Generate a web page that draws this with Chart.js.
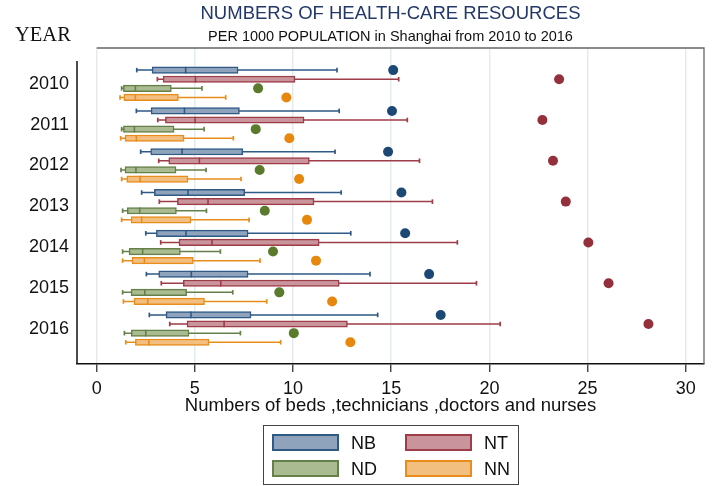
<!DOCTYPE html>
<html>
<head>
<meta charset="utf-8">
<script src="https://cdn.jsdelivr.net/npm/chart.js@4.4.0/dist/chart.umd.min.js"></script>
<style>
  body { margin: 0; background: #fff; }
  #wrap { position: relative; width: 724px; height: 486px; }
  #legend {
    position: absolute; left: 263px; top: 425px; width: 256px; height: 60px;
    border: 1.5px solid #444; box-sizing: border-box;
    font: 18px "Liberation Sans", Arial, Helvetica, sans-serif; color: #111;
  }
  #legend .sw { position: absolute; width: 67px; height: 17px; box-sizing: border-box; border: 2px solid; }
  #legend .lb { position: absolute; line-height: 18px; }
</style>
</head>
<body>
<div id="wrap">
  <canvas id="chart" width="724" height="486"></canvas>
  <div id="legend"></div>
</div>
<script>
// --- data ---
const years = ['2010', '2011', '2012', '2013', '2014', '2015', '2016'];
const seriesNames = ['NB', 'NT', 'ND', 'NN'];
const xTicks = [0, 5, 10, 15, 20, 25, 30];

const nbMin = [2.04, 2.02, 2.24, 2.29, 2.50, 2.53, 2.68];
const nbQ1  = [2.82, 2.77, 2.75, 2.94, 3.04, 3.16, 3.53];
const nbMed = [4.53, 4.47, 4.35, 4.65, 4.55, 4.82, 4.80];
const nbQ3  = [7.20, 7.27, 7.44, 7.54, 7.71, 7.71, 7.86];
const nbMax = [12.24, 12.35, 12.14, 12.45, 12.94, 13.92, 14.31];
const nbOut = [15.10, 15.04, 14.84, 15.52, 15.71, 16.93, 17.52];

const ntMin = [3.09, 3.11, 3.16, 3.19, 3.26, 3.29, 3.72];
const ntQ1  = [3.38, 3.50, 3.67, 4.11, 4.19, 4.41, 4.60];
const ntMed = [5.03, 5.01, 5.23, 5.67, 5.87, 6.32, 6.49];
const ntQ3  = [10.10, 10.56, 10.83, 11.07, 11.33, 12.35, 12.77];
const ntMax = [15.38, 15.82, 16.44, 17.10, 18.37, 19.34, 20.55];
const ntOut = [23.55, 22.70, 23.24, 23.89, 25.04, 26.07, 28.10];

const ndMin = [1.27, 1.27, 1.24, 1.32, 1.32, 1.32, 1.41];
const ndQ1  = [1.36, 1.36, 1.44, 1.56, 1.65, 1.75, 1.76];
const ndMed = [1.97, 1.92, 2.00, 2.19, 2.34, 2.45, 2.50];
const ndQ3  = [3.80, 3.94, 4.04, 4.06, 4.26, 4.58, 4.70];
const ndMax = [5.36, 5.47, 5.57, 5.59, 6.30, 6.93, 7.32];
const ndOut = [8.22, 8.10, 8.30, 8.56, 8.98, 9.30, 10.04];

const nnMin = [1.19, 1.22, 1.27, 1.27, 1.32, 1.36, 1.48];
const nnQ1  = [1.38, 1.44, 1.53, 1.75, 1.80, 1.90, 1.97];
const nnMed = [1.97, 2.02, 2.21, 2.29, 2.43, 2.60, 2.66];
const nnQ3  = [4.16, 4.45, 4.65, 4.80, 4.92, 5.49, 5.72];
const nnMax = [6.57, 6.96, 7.35, 7.76, 8.32, 8.66, 9.37];
const nnOut = [9.66, 9.81, 10.31, 10.71, 11.17, 11.99, 12.92];

const titleText = 'NUMBERS OF HEALTH-CARE RESOURCES';
const subtitleText = 'PER 1000 POPULATION in Shanghai from 2010 to 2016';
const xTitle = 'Numbers of beds ,technicians ,doctors and nurses';

// --- styling ---
const FONT = '"Liberation Sans", Arial, Helvetica, sans-serif';
const series = [
  { name: 'NB', min: nbMin, q1: nbQ1, med: nbMed, q3: nbQ3, max: nbMax, out: nbOut, off: -0.335, line: '#2f5a86', fill: '#8fa4bc', dot: '#1b4874' },
  { name: 'NT', min: ntMin, q1: ntQ1, med: ntMed, q3: ntQ3, max: ntMax, out: ntOut, off: -0.112, line: '#9e3c48', fill: '#c9949b', dot: '#94303b' },
  { name: 'ND', min: ndMin, q1: ndQ1, med: ndMed, q3: ndQ3, max: ndMax, out: ndOut, off: 0.112, line: '#66804a', fill: '#aabb91', dot: '#5a7a2c' },
  { name: 'NN', min: nnMin, q1: nnQ1, med: nnMed, q3: nnQ3, max: nnMax, out: nnOut, off: 0.335, line: '#e88d1c', fill: '#f2bf80', dot: '#e8870d' }
];

const datasets = [];
series.forEach(s => {
  // whiskers (min to max), broken between years
  const wh = [];
  years.forEach((_, i) => {
    wh.push({ x: s.min[i], y: i + s.off }, { x: s.max[i], y: i + s.off }, { x: null, y: null });
  });
  datasets.push({ type: 'line', label: s.name + ' whisker', data: wh, borderColor: s.line, borderWidth: 1.5,
    pointRadius: 0, spanGaps: false, fill: false, order: 3 });

  // boxes q1..q3
  datasets.push({ type: 'bar', label: s.name, indexAxis: 'y', grouped: false,
    data: years.map((_, i) => ({ x: [s.q1[i], s.q3[i]], y: i + s.off })),
    backgroundColor: s.fill, borderColor: s.line, borderWidth: 1.5, borderSkipped: false,
    barThickness: 6.5, order: 2 });

  // medians
  datasets.push({ type: 'scatter', label: s.name + ' median',
    data: years.map((_, i) => ({ x: s.med[i], y: i + s.off })),
    pointStyle: 'line', pointRotation: 90, pointRadius: 3.3, pointBorderColor: s.line, pointBorderWidth: 1.6, order: 1 });

  // whisker caps
  const caps = [];
  years.forEach((_, i) => { caps.push({ x: s.min[i], y: i + s.off }, { x: s.max[i], y: i + s.off }); });
  datasets.push({ type: 'scatter', label: s.name + ' caps', data: caps,
    pointStyle: 'line', pointRotation: 90, pointRadius: 2.3, pointBorderColor: s.line, pointBorderWidth: 1.7, order: 1 });

  // outside values
  datasets.push({ type: 'scatter', label: s.name + ' outside',
    data: years.map((_, i) => ({ x: s.out[i], y: i + s.off })),
    pointStyle: 'circle', pointRadius: 5, pointBackgroundColor: s.dot, pointBorderWidth: 0, order: 0 });
});

// frame lines and the "YEAR" caption
const framePlugin = {
  id: 'frame',
  afterDraw(chart) {
    const { ctx, chartArea: ca, scales } = chart;
    ctx.save();
    ctx.strokeStyle = '#666';
    ctx.lineWidth = 1.3;
    ctx.beginPath();
    ctx.moveTo(scales.x.getPixelForValue(0), ca.top);
    ctx.lineTo(ca.right, ca.top);
    ctx.lineTo(ca.right, ca.bottom);
    ctx.stroke();
    ctx.strokeStyle = '#111';
    ctx.lineWidth = 1.5;
    ctx.beginPath();
    ctx.moveTo(ca.left, ca.top + 13);
    ctx.lineTo(ca.left, ca.bottom);
    ctx.stroke();
    ctx.fillStyle = '#111';
    ctx.font = '20.5px "Liberation Serif", "Times New Roman", serif';
    ctx.textBaseline = 'alphabetic';
    ctx.textAlign = 'left';
    ctx.fillText('YEAR', 15, 41);
    ctx.restore();
  }
};

new Chart(document.getElementById('chart'), {
  type: 'scatter',
  data: { datasets },
  options: {
    responsive: false,
    animation: false,
    events: [],
    layout: { padding: { left: 0, right: 20, top: 0, bottom: 0 } },
    plugins: {
      legend: { display: false },
      tooltip: { enabled: false },
      title: { display: true, fullSize: false, text: titleText, color: '#22386b',
        font: { family: FONT, size: 18.5, weight: 'normal', lineHeight: 1.2 }, padding: { top: 3, bottom: 0 } },
      subtitle: { display: true, fullSize: false, text: subtitleText, color: '#111',
        font: { family: FONT, size: 14.5, weight: 'normal', lineHeight: 1.2 }, padding: { top: 3.1, bottom: 2.3 } }
    },
    scales: {
      x: {
        type: 'linear', min: -1.003, max: 30.93, offset: false,
        afterBuildTicks: s => { s.ticks = xTicks.map(v => ({ value: v })); },
        ticks: { font: { family: FONT, size: 18 }, color: '#111', padding: 6, maxRotation: 0, autoSkip: false },
        grid: { color: '#e3ebef', lineWidth: 1.5, tickColor: '#333', tickLength: 8, tickWidth: 1.3, offset: false, drawTicks: true },
        border: { display: true, color: '#111', width: 1.5 },
        title: { display: true, text: xTitle, color: '#111', font: { family: FONT, size: 18.5 }, padding: { top: 0, bottom: 69 } },
        afterFit: s => { s.height = 122; }
      },
      y: {
        type: 'linear', reverse: true, min: -0.877, max: 6.868, offset: false,
        afterBuildTicks: s => { s.ticks = years.map((_, i) => ({ value: i })); },
        ticks: { callback: v => years[v], font: { family: FONT, size: 18 }, color: '#111', padding: 8, autoSkip: false },
        grid: { display: false, drawTicks: false, offset: false },
        border: { display: false },
        afterFit: s => { s.width = 77; }
      }
    }
  },
  plugins: [framePlugin]
});

// legend (2 x 2 grid, bordered)
const legend = document.getElementById('legend');
const cells = [[8, 8], [141, 8], [8, 34], [141, 34]];
series.forEach((s, k) => {
  const [lx, ly] = cells[k];
  const sw = document.createElement('div');
  sw.className = 'sw';
  sw.style.left = lx + 'px'; sw.style.top = ly + 'px';
  sw.style.background = s.fill; sw.style.borderColor = s.line;
  legend.appendChild(sw);
  const lb = document.createElement('div');
  lb.className = 'lb';
  lb.textContent = seriesNames[k];
  lb.style.left = (lx + 79) + 'px'; lb.style.top = (ly - 0.5) + 'px';
  legend.appendChild(lb);
});
</script>
</body>
</html>
